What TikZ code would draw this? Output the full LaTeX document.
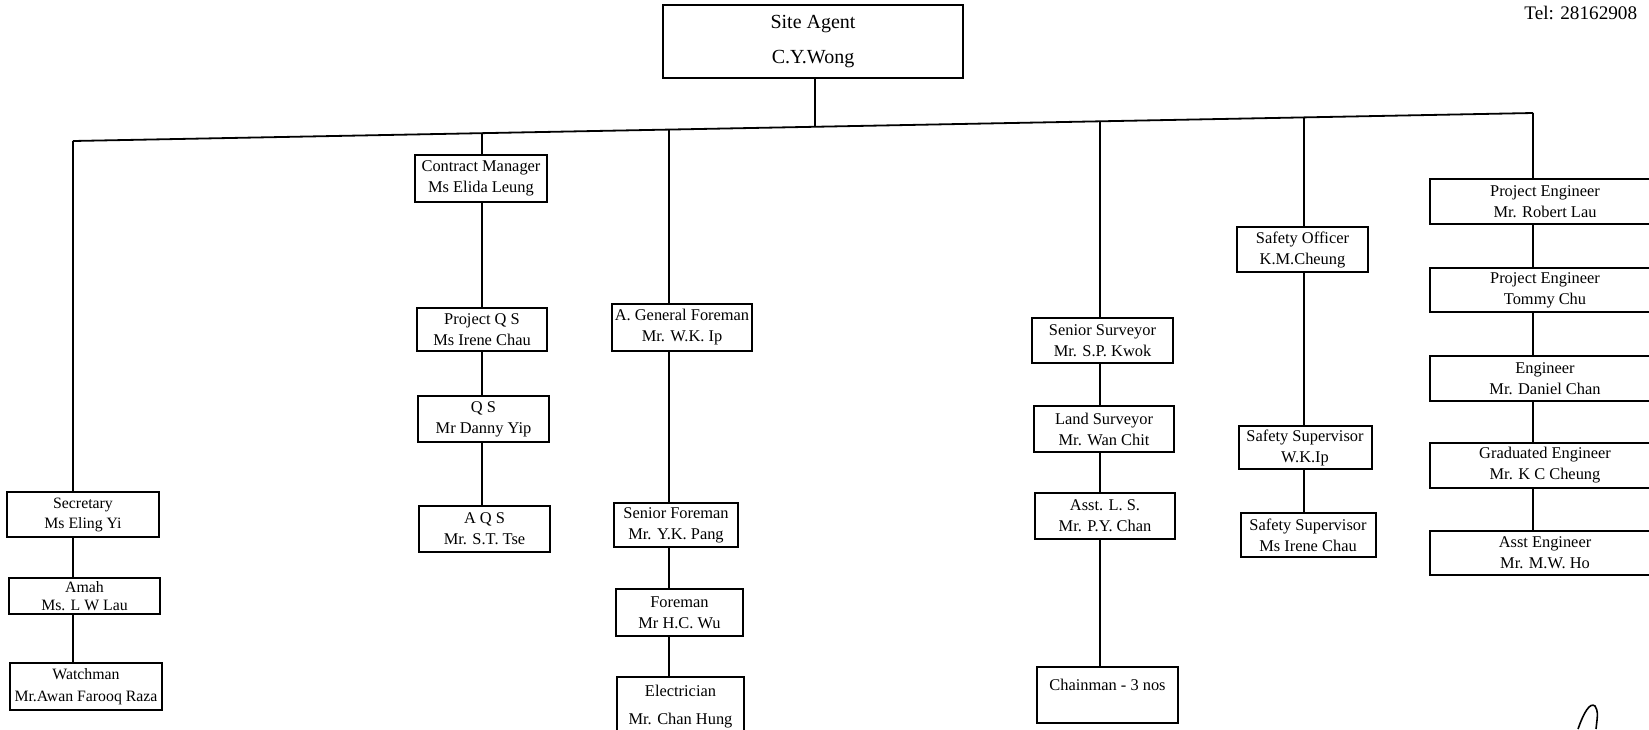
\documentclass[tikz,border=0pt]{standalone}
\usepackage{fontspec}
\setmainfont{Liberation Serif}

\begin{document}
\begin{tikzpicture}[x=0.5pt, y=-0.5pt,
    staff/.style={draw, line width=1pt, inner sep=0.5pt, align=center,
                  font=\fontsize{8.2}{10.5}\selectfont},
    wh/.style 2 args={minimum width=#1*0.5pt, minimum height=#2*0.5pt},
    link/.style={line width=0.9pt}]
        \useasboundingbox (0,0) rectangle (1649,729);
        \clip (0,0) rectangle (1649,729);

        % Site agent (on top)
        \node[staff, wh={300}{73}, font=\fontsize{10}{17.5}\selectfont] (agent) at (813,41.5) {Site Agent\\C.Y.Wong};
        \node[anchor=west, inner sep=0pt, font=\fontsize{9.6}{12}\selectfont] (tel) at (1524,13) {Tel: 28162908};

        % Taps on the (slightly tilted) main bus
        \coordinate (tA) at (73,141);
        \coordinate (tB) at (482,133.1);
        \coordinate (tC) at (669,129.6);
        \coordinate (tS) at (815,126.7);
        \coordinate (tD) at (1100,121.3);
        \coordinate (tE) at (1304,117.4);
        \coordinate (tF) at (1533,113);

        % Office staff
        \node[staff, wh={152}{45}, font=\fontsize{7.9}{10}\selectfont] (sec) at (83,514.5) {Secretary\\Ms Eling Yi};
        \node[staff, wh={151}{36}, font=\fontsize{7.9}{9}\selectfont] (amah) at (84.5,596) {Amah\\Ms. L W Lau};
        \node[staff, wh={152}{47}, font=\fontsize{7.9}{11}\selectfont] (watch) at (86,686.5) {Watchman\\Mr.Awan Farooq Raza};

        % Contract / QS
        \node[staff, wh={132}{47}] (cm) at (481,178.5) {Contract Manager\\Ms Elida Leung};
        \node[staff, wh={130}{43}] (pqs) at (482,329.5) {Project Q S\\Ms Irene Chau};
        \node[staff, wh={131}{46}] (qs) at (483.5,419) {Q S\\Mr Danny Yip};
        \node[staff, wh={131}{46}] (aqs) at (484.5,529) {A Q S\\Mr. S.T. Tse};

        % Foremen
        \node[staff, wh={140}{47}] (gf) at (682,327.5) {A. General Foreman\\Mr. W.K. Ip};
        \node[staff, wh={124}{44}] (sf) at (676,525) {Senior Foreman\\Mr. Y.K. Pang};
        \node[staff, wh={127}{47}] (fm) at (679.5,612.5) {Foreman\\Mr H.C. Wu};
        \node[staff, wh={127}{60}] (elec) at (680.5,707) {Electrician\\[3.5pt]Mr. Chan Hung};

        % Survey
        \node[staff, wh={141}{45}] (ss) at (1102.5,340.5) {Senior Surveyor\\Mr. S.P. Kwok};
        \node[staff, wh={140}{46}] (ls) at (1104,429) {Land Surveyor\\Mr. Wan Chit};
        \node[staff, wh={140}{46}] (als) at (1105,516) {Asst. L. S.\\Mr. P.Y. Chan};
        \node[staff, wh={141}{56}] (chain) at (1107.5,695) {Chainman - 3 nos\\\mbox{}};

        % Safety
        \node[staff, wh={131}{45}] (so) at (1302.5,249.5) {Safety Officer\\K.M.Cheung};
        \node[staff, wh={133}{43}] (sv1) at (1305,447.5) {Safety Supervisor\\W.K.Ip};
        \node[staff, wh={135}{44}] (sv2) at (1308,535) {Safety Supervisor\\Ms Irene Chau};

        % Engineers (cut by the right edge)
        \node[staff, wh={230}{45}] (pe1) at (1545,201.5) {Project Engineer\\Mr. Robert Lau};
        \node[staff, wh={230}{44}] (pe2) at (1545,290) {Project Engineer\\Tommy Chu};
        \node[staff, wh={230}{45}] (eng) at (1545,378.5) {Engineer\\Mr. Daniel Chan};
        \node[staff, wh={230}{45}] (ge) at (1545,465.5) {Graduated Engineer\\Mr. K C Cheung};
        \node[staff, wh={230}{44}] (ae) at (1545,553) {Asst Engineer\\Mr. M.W. Ho};

        % Bus and drops
        \draw[link] (tA) -- (tF);
        \draw[link] (agent.south -| tS) -- (tS);
        \foreach \t/\n in {tA/sec, tB/cm, tC/gf, tD/ss, tE/so, tF/pe1}
            \draw[link] (\t) -- (\t |- \n.north);

        % Chains inside each column
        \foreach \a/\b/\t in {sec/amah/tA, amah/watch/tA, cm/pqs/tB, pqs/qs/tB, qs/aqs/tB,
                              gf/sf/tC, sf/fm/tC, fm/elec/tC, ss/ls/tD, ls/als/tD, als/chain/tD,
                              so/sv1/tE, sv1/sv2/tE, pe1/pe2/tF, pe2/eng/tF, eng/ge/tF, ge/ae/tF}
            \draw[link] (\a.south -| \t) -- (\b.north -| \t);

        % Hand mark, bottom right
        \draw[line width=0.8pt] (1578,729) .. controls (1584,712) and (1590,702) .. (1595,706)
            .. controls (1598,712) .. (1596,729);
\end{tikzpicture}
\end{document}
